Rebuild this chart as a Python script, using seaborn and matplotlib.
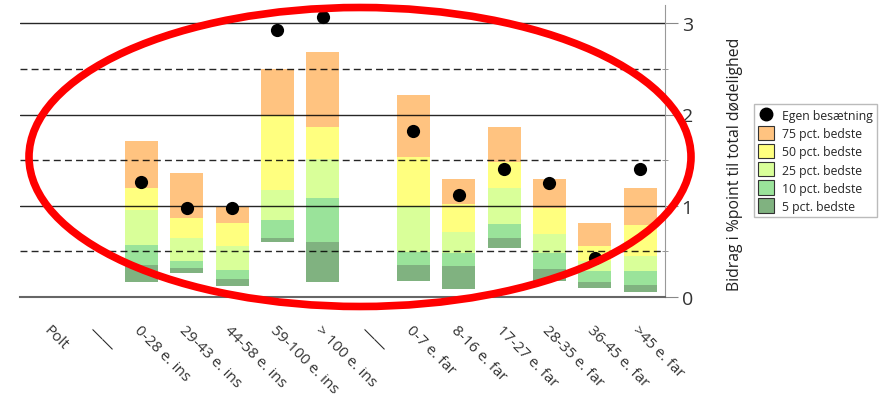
import numpy as np
import pandas as pd
import matplotlib
matplotlib.use("Agg")
import matplotlib.pyplot as plt
import seaborn as sns
from matplotlib.patches import Patch, Ellipse
from matplotlib.lines import Line2D

cats = ['Polt', '——', '0-28 e. ins', '29-43 e. ins', '44-58 e. ins', '59-100 e. ins',
        '> 100 e. ins', '——', '0-7 e. far', '8-16 e. far', '17-27 e. far',
        '28-35 e. far', '36-45 e. far', '>45 e. far']

# categories that have bars (the two '——' and 'Polt' are empty)
bar_idx = [2, 3, 4, 5, 6, 8, 9, 10, 11, 12, 13]

# band boundaries per category, from bottom up
bottom = [0.16, 0.26, 0.12, 0.60, 0.16, 0.17, 0.09, 0.54, 0.17, 0.10, 0.06]
pct5   = [0.35, 0.32, 0.20, 0.65, 0.60, 0.35, 0.34, 0.65, 0.31, 0.16, 0.13]
pct10  = [0.57, 0.39, 0.30, 0.84, 1.09, 0.49, 0.48, 0.80, 0.48, 0.28, 0.28]
pct25  = [0.95, 0.65, 0.56, 1.17, 1.51, 1.00, 0.71, 1.19, 0.69, 0.40, 0.45]
pct50  = [1.20, 0.87, 0.81, 2.00, 1.86, 1.53, 1.02, 1.48, 0.97, 0.56, 0.79]
pct75  = [1.71, 1.36, 0.99, 2.50, 2.68, 2.21, 1.29, 1.86, 1.29, 0.81, 1.20]
egen   = [1.26, 0.98, 0.98, 2.93, 3.07, 1.82, 1.12, 1.40, 1.25, 0.43, 1.40]

bands = [
    ('5 pct. bedste', bottom, pct5, '#80B280'),
    ('10 pct. bedste', pct5, pct10, '#9AE39A'),
    ('25 pct. bedste', pct10, pct25, '#D9FF99'),
    ('50 pct. bedste', pct25, pct50, '#FFFF7F'),
    ('75 pct. bedste', pct50, pct75, '#FFC380'),
]

sns.set_style('white')
plt.rcParams['font.family'] = ['Open Sans', 'DejaVu Sans']

fig = plt.figure(figsize=(8.91, 4.02), dpi=100)
ax = fig.add_axes([20 / 891, 1 - 298 / 402, 645 / 891, 292 / 402])

# unique keys, since '——' is used twice as a label
keys = ['k%d' % i for i in range(len(cats))]
names = [keys[i] for i in bar_idx]
for label, lo, hi, col in bands:
    df = pd.DataFrame({'cat': names, 'h': np.array(hi) - np.array(lo)})
    sns.barplot(data=df, x='cat', y='h', order=keys, color=col, bottom=np.array(lo),
                width=0.73, errorbar=None, linewidth=0, saturation=1, ax=ax, zorder=1)

for v in [1, 2, 3]:
    ax.axhline(v, color='black', lw=1, alpha=0.85, zorder=3)
for v in [0.5, 1.5, 2.5]:
    ax.axhline(v, color='black', lw=1, ls=(0, (5, 3)), alpha=0.85, zorder=3)

dots = pd.DataFrame({'cat': names, 'v': egen})
sns.stripplot(data=dots, x='cat', y='v', order=keys, jitter=False, color='black',
              size=9.5, ax=ax, zorder=4)

ax.set_xlim(-0.68, 13.55)
ax.set_ylim(0, 3.2)
ax.set_xlabel('')
ax.yaxis.tick_right()
ax.yaxis.set_label_position('right')
ax.set_yticks([0, 1, 2, 3])
ax.set_yticks([0.5, 1.5, 2.5], minor=True)
ax.tick_params(axis='y', which='major', length=9, color='#888888', labelsize=14,
               labelcolor='#333333', pad=3, right=True)
ax.tick_params(axis='y', which='minor', length=5, direction='inout', color='#888888', right=True)
ax.set_ylabel('Bidrag i %point til total dødelighed', fontsize=11.3, color='#222222')
ax.yaxis.set_label_coords(1.096, 0.459)

ax.tick_params(axis='x', length=0, pad=18)
ax.set_xticks(range(len(cats)))
ax.set_xticklabels(cats, rotation=-45, ha='left', va='top', rotation_mode='anchor',
                   fontsize=11, color='#333333')

for s in ['top', 'left']:
    ax.spines[s].set_visible(False)
ax.spines['bottom'].set_color('#666666')
ax.spines['bottom'].set_linewidth(1.5)
ax.spines['right'].set_color('#999999')

handles = [Line2D([], [], marker='o', color='black', ls='', markersize=9, label='Egen besætning')]
for label, lo, hi, col in reversed(bands):
    handles.append(Patch(facecolor=col, edgecolor='#333333', lw=0.8, label=label))
fig.legend(handles=handles, loc='upper left', bbox_to_anchor=(754 / 891, 1 - 105 / 402),
           fontsize=8.8, frameon=True, fancybox=False, edgecolor='#aaaaaa',
           handlelength=1.3, handleheight=1.4, labelspacing=0.32, borderpad=0.35,
           handletextpad=0.6, borderaxespad=0)

fig.add_artist(Ellipse((360 / 891, 1 - 158 / 402), 662 / 891, 299 / 402,
                       transform=fig.transFigure, fill=False, ec='red', lw=5.5, zorder=10))

fig.savefig('out.png', dpi=100)
